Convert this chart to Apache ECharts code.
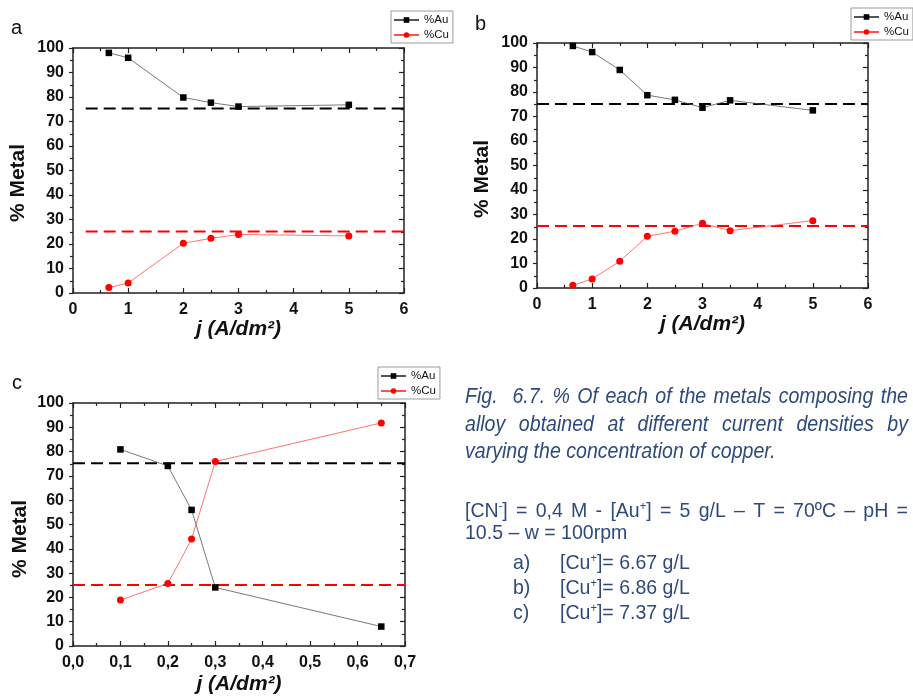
<!DOCTYPE html>
<html><head><meta charset="utf-8">
<script src="https://cdn.jsdelivr.net/npm/echarts@6/dist/echarts.min.js"></script>
<style>html,body{margin:0;padding:0;background:#fff}#c{width:913px;height:696px}</style>
</head><body><div id="c"></div>
<script>
// ---------- data ----------
const xA = [0.65, 1, 2, 2.5, 3, 5];
const auA = [98, 96, 79.8, 77.7, 76.1, 76.8];
const cuA = [2.2, 4.1, 20.3, 22.3, 23.9, 23.3];

const xB = [0.65, 1, 1.5, 2, 2.5, 3, 3.5, 5];
const auB = [98.8, 96.3, 89, 78.7, 76.8, 73.6, 76.6, 72.5];
const cuB = [1.1, 3.7, 10.9, 21.1, 23.2, 26.4, 23.4, 27.5];

const xC = [0.1, 0.2, 0.25, 0.3, 0.65];
const auC = [80.9, 74.1, 56, 24.1, 8];
const cuC = [18.9, 25.7, 44, 75.9, 91.8];

const refAuLevel = [75.3, 75.1, 75.2];
const refCuLevel = [25.1, 25.3, 25.1];
const refStart = [0.23, 0, 0];
const refEnd = [6, 6, 0.7];

const xMax = [6, 6, 0.7];
const xStep = [1, 1, 0.1];
const panelLetters = ['a', 'b', 'c'];
const seriesNames = ['%Au', '%Cu'];

const captionItalic = [
  'Fig.  6.7. % Of each of the metals composing the',
  'alloy obtained at different current densities by',
  'varying the concentration of copper.'
];
const captionCond = [
  '[CN{sup|-}] = 0,4 M - [Au{sup|+}] = 5 g/L – T = 70ºC – pH =',
  '10.5 – w = 100rpm'
];
const captionList = [
  ['a)', '[Cu{sup|+}]= 6.67 g/L'],
  ['b)', '[Cu{sup|+}]= 6.86 g/L'],
  ['c)', '[Cu{sup|+}]= 7.37 g/L']
];

// ---------- layout ----------
const FONT = '"Liberation Sans", Arial, Helvetica, sans-serif';
const CAPFONT = '"Liberation Sans", Arial, sans-serif';
const CAPCOL = '#2e4a7c';
const grids = [
  {left: 73, top: 48, width: 331, height: 245},
  {left: 537, top: 43, width: 331, height: 245},
  {left: 73, top: 403, width: 332, height: 245}
];
const panels = [
  {x: xA, au: auA, cu: cuA},
  {x: xB, au: auB, cu: cuB},
  {x: xC, au: auC, cu: cuC}
];
const AX = '#222';

const xAxis = [], yAxis = [], series = [], graphic = [];
panels.forEach((p, i) => {
  const fmt = i === 2 ? (v => v.toFixed(1).replace('.', ',')) : (v => String(Math.round(v)));
  const common = {gridIndex: i, type: 'value', min: 0, max: xMax[i], interval: xStep[i], splitLine: {show: false}};
  xAxis.push(Object.assign({}, common, {
    position: 'bottom',
    axisLine: {show: true, onZero: false, lineStyle: {color: AX, width: 1.5}},
    axisTick: {show: true, inside: true, length: 5, lineStyle: {color: AX, width: 1.2}},
    minorTick: {show: true, splitNumber: 2, length: 3, lineStyle: {color: AX, width: 1.2}},
    axisLabel: {show: true, margin: 9, fontSize: 16, fontWeight: 'bold', fontFamily: FONT, color: '#111', formatter: fmt, showMinLabel: true, showMaxLabel: true},
    name: 'j (A/dm²)', nameLocation: 'middle', nameGap: i === 2 ? 28 : 24,
    nameTextStyle: {fontSize: 21, fontWeight: 'bold', fontStyle: 'italic', fontFamily: FONT, color: '#111'}
  }));
  xAxis.push(Object.assign({}, common, {
    position: 'top',
    axisLine: {show: true, onZero: false, lineStyle: {color: AX, width: 1.5}},
    axisTick: {show: true, inside: true, length: 5, lineStyle: {color: AX, width: 1.2}},
    minorTick: {show: true, splitNumber: 2, length: 3, lineStyle: {color: AX, width: 1.2}},
    axisLabel: {show: false}
  }));
  const ycommon = {gridIndex: i, type: 'value', min: 0, max: 100, interval: 10, splitLine: {show: false}};
  yAxis.push(Object.assign({}, ycommon, {
    position: 'left',
    axisLine: {show: true, onZero: false, lineStyle: {color: AX, width: 1.5}},
    axisTick: {show: true, inside: false, length: 4, lineStyle: {color: AX, width: 1.2}},
    minorTick: {show: true, splitNumber: 2, length: 3, lineStyle: {color: AX, width: 1.2}},
    axisLabel: {show: true, margin: 9, fontSize: 16, fontWeight: 'bold', fontFamily: FONT, color: '#111', showMinLabel: true, showMaxLabel: true}
  }));
  yAxis.push(Object.assign({}, ycommon, {
    position: 'right',
    axisLine: {show: true, onZero: false, lineStyle: {color: AX, width: 1.5}},
    axisTick: {show: true, inside: true, length: 5, lineStyle: {color: AX, width: 1.2}},
    minorTick: {show: true, splitNumber: 2, length: 3, lineStyle: {color: AX, width: 1.2}},
    axisLabel: {show: false}
  }));
  const xi = 2 * i, yi = 2 * i;
  series.push({
    type: 'line', name: 'refAu' + i, xAxisIndex: xi, yAxisIndex: yi, silent: true, z: 1,
    data: [[refStart[i], refAuLevel[i]], [refEnd[i], refAuLevel[i]]], symbol: 'none',
    lineStyle: {color: '#000', width: 2.2, type: [12, 6]}
  });
  series.push({
    type: 'line', name: 'refCu' + i, xAxisIndex: xi, yAxisIndex: yi, silent: true, z: 1,
    data: [[refStart[i], refCuLevel[i]], [refEnd[i], refCuLevel[i]]], symbol: 'none',
    lineStyle: {color: '#ff0000', width: 2.2, type: [12, 6]}
  });
  series.push({
    type: 'line', name: seriesNames[0], xAxisIndex: xi, yAxisIndex: yi, z: 3,
    data: p.x.map((v, k) => [v, p.au[k]]), symbol: 'rect', symbolSize: 6.5,
    itemStyle: {color: '#000'}, lineStyle: {color: '#555', width: 0.8}
  });
  series.push({
    type: 'line', name: seriesNames[1], xAxisIndex: xi, yAxisIndex: yi, z: 3,
    data: p.x.map((v, k) => [v, p.cu[k]]), symbol: 'circle', symbolSize: 7,
    itemStyle: {color: '#ff0000'}, lineStyle: {color: '#ff5050', width: 0.8}
  });
});

const legendPos = [{left: 391, top: 11}, {left: 851, top: 8}, {left: 378, top: 367}];
const legend = legendPos.map(pos => Object.assign({
  orient: 'vertical', data: seriesNames, itemWidth: 25, itemHeight: 7, itemGap: 3,
  textStyle: {fontSize: 11.5, fontFamily: FONT, color: '#111'},
  borderColor: '#9a9a9a', borderWidth: 1, borderRadius: 0, padding: [3, 4, 2, 2],
  backgroundColor: '#fff', selectedMode: false
}, pos));

// panel letters
const letterPos = [[11, 28], [475, 24], [12, 383]];
panelLetters.forEach((l, i) => {
  graphic.push({type: 'text', x: letterPos[i][0], y: letterPos[i][1], silent: true,
    style: {text: l, fontSize: 20, fontFamily: FONT, fill: '#111', verticalAlign: 'middle', align: 'left'}});
});
// y axis names
const yNamePos = [[18, 183], [482, 179], [20, 539]];
yNamePos.forEach(pt => {
  graphic.push({type: 'text', x: pt[0], y: pt[1], rotation: Math.PI / 2, silent: true,
    style: {text: '% Metal', fontSize: 21, fontWeight: 'bold', fontFamily: FONT, fill: '#111', align: 'center', verticalAlign: 'middle'}});
});

// caption (narrow look through horizontal scale)
const ctx = document.createElement('canvas').getContext('2d');
function parseRich(s) {
  const parts = []; const re = /\{sup\|([^}]*)\}/g; let last = 0, m;
  while ((m = re.exec(s))) {
    if (m.index > last) parts.push({t: s.slice(last, m.index), sup: false});
    parts.push({t: m[1], sup: true}); last = re.lastIndex;
  }
  if (last < s.length) parts.push({t: s.slice(last), sup: false});
  return parts;
}
function measure(s, o) {
  return o.sx * parseRich(s).reduce((w, p) => {
    ctx.font = `${o.fontStyle} normal ${p.sup ? o.supSize : o.fontSize}px ${CAPFONT}`;
    return w + ctx.measureText(p.t).width;
  }, 0);
}
function textEl(s, x, y, o) {
  return {type: 'text', x: x, y: y, scaleX: o.sx, silent: true, style: {
    text: s, fontSize: o.fontSize, fontStyle: o.fontStyle, fontFamily: CAPFONT, fill: CAPCOL,
    align: 'left', verticalAlign: 'middle',
    rich: {sup: {fontSize: o.supSize, fontStyle: o.fontStyle, fontFamily: CAPFONT, fill: CAPCOL, verticalAlign: 'top'}}
  }};
}
function lineEls(str, x0, x1, y, o, justify) {
  if (!justify) return [textEl(str, x0, y, o)];
  const words = str.split(' ');
  const toks = []; let pend = 0;
  words.forEach((w, idx) => {
    if (idx > 0) pend++;
    if (w === '') return;
    toks.push({w: w, gap: toks.length ? pend : 0}); pend = 0;
  });
  const total = toks.reduce((s, t) => s + measure(t.w, o), 0);
  const units = toks.reduce((s, t) => s + t.gap, 0);
  const g = (x1 - x0 - total) / units;
  let x = x0;
  return toks.map(t => { x += t.gap * g; const el = textEl(t.w, x, y, o); x += measure(t.w, o); return el; });
}
const itOpt = {fontSize: 22, fontStyle: 'italic', supSize: 12, sx: 0.89};
const nOpt = {fontSize: 21, fontStyle: 'normal', supSize: 12, sx: 0.93};
const capX0 = 465, capX1 = 908;
const itY = [397, 425, 452];
captionItalic.forEach((s, k) => { graphic.push(...lineEls(s, capX0, capX1, itY[k], itOpt, k < 2)); });
const cY = [511, 533];
captionCond.forEach((s, k) => { graphic.push(...lineEls(s, capX0, capX1, cY[k], nOpt, k < 1)); });
const lY = [563, 588, 613];
captionList.forEach((pair, k) => {
  graphic.push(textEl(pair[0], 513, lY[k], nOpt));
  graphic.push(textEl(pair[1], 560, lY[k], nOpt));
});

const chart = echarts.init(document.getElementById('c'), null, {renderer: 'canvas'});
chart.setOption({
  animation: false,
  backgroundColor: '#fff',
  grid: grids.map(g => Object.assign({containLabel: false}, g)),
  xAxis: xAxis, yAxis: yAxis, series: series, legend: legend, graphic: graphic
});
</script>
</body></html>
